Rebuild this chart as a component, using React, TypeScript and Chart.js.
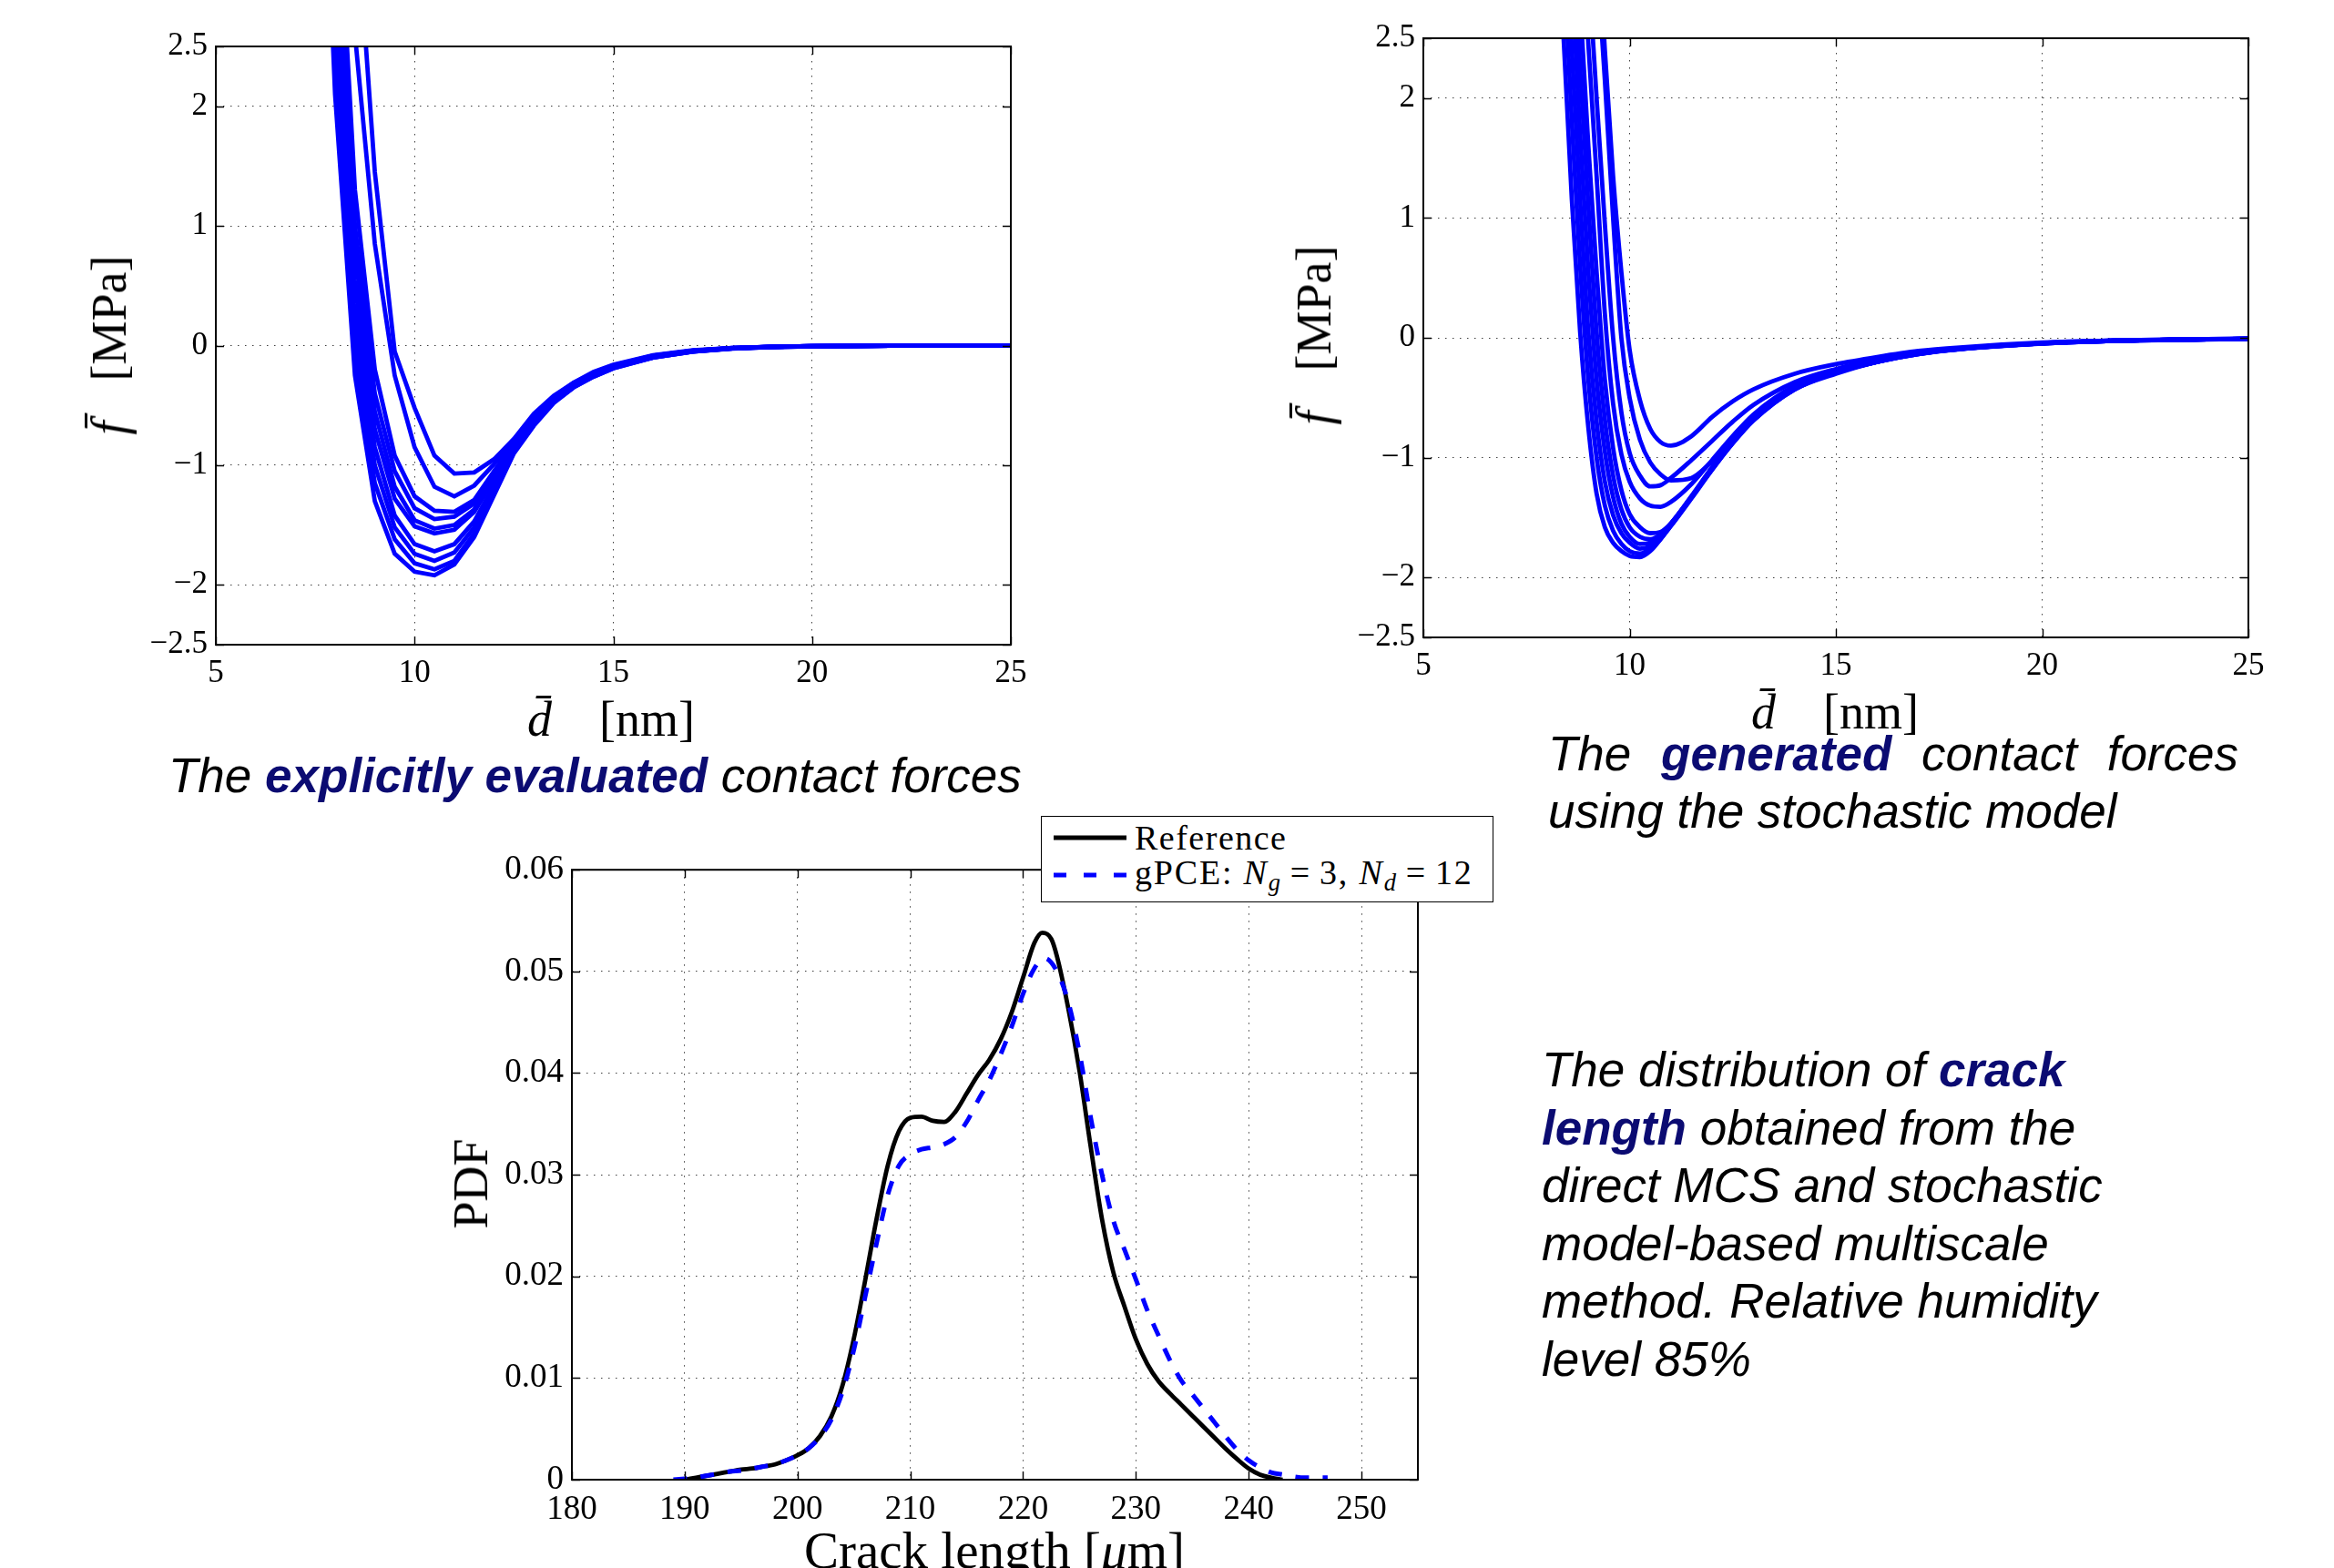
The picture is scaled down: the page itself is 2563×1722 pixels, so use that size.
import React, { useEffect, useRef } from 'react';
import { Chart, registerables } from 'chart.js';

Chart.register(...registerables);

const SERIF = '"Liberation Serif", "Times New Roman", serif';
const SANS = '"Liberation Sans", Arial, sans-serif';
const BLUE = '#0000ff';
const NAVY = '#0b0b72';
const GRID = 'rgba(0,0,0,0.75)';

// ---------- Top-left: explicitly evaluated contact forces ----------
const X_LEFT = [7.5, 8, 8.5, 9, 9.5, 10, 10.5, 11, 11.5, 12, 12.5, 13, 13.5, 14, 14.5, 15, 16, 17, 18, 19, 20, 22, 25];
const FL_A = [11.0, 7.0, 3.8, 1.45, -0.05, -0.52, -0.92, -1.07, -1.06, -0.95, -0.78, -0.57, -0.42, -0.31, -0.22, -0.16, -0.08, -0.04, -0.02, -0.01, -0.004, -0.001, 0];
const FL_B = [9.5, 6.0, 2.6, 0.85, -0.25, -0.85, -1.18, -1.26, -1.17, -0.99, -0.8, -0.59, -0.43, -0.31, -0.23, -0.165, -0.085, -0.042, -0.02, -0.01, -0.005, -0.001, 0];
const FL_C = [8.8, 4.3, 1.3, -0.2, -0.92, -1.26, -1.38, -1.39, -1.29, -1.05, -0.82, -0.61, -0.44, -0.32, -0.23, -0.17, -0.085, -0.043, -0.021, -0.01, -0.005, -0.001, 0];
const FL_D = [8.4, 3.9, 1.0, -0.4, -1.05, -1.36, -1.45, -1.43, -1.32, -1.07, -0.83, -0.62, -0.45, -0.33, -0.24, -0.17, -0.09, -0.045, -0.022, -0.011, -0.005, -0.001, 0];
const FL_E = [8.0, 3.6, 0.8, -0.55, -1.18, -1.46, -1.53, -1.5, -1.37, -1.1, -0.84, -0.62, -0.45, -0.33, -0.24, -0.17, -0.09, -0.045, -0.022, -0.011, -0.005, -0.001, 0];
const FL_F = [7.6, 3.3, 0.55, -0.7, -1.28, -1.51, -1.57, -1.54, -1.39, -1.12, -0.85, -0.63, -0.46, -0.33, -0.24, -0.18, -0.09, -0.046, -0.022, -0.011, -0.005, -0.001, 0];
const FL_G = [7.2, 3.0, 0.35, -0.85, -1.42, -1.66, -1.72, -1.66, -1.47, -1.17, -0.87, -0.64, -0.46, -0.34, -0.25, -0.18, -0.095, -0.048, -0.023, -0.011, -0.005, -0.001, 0];
const FL_H = [6.8, 2.7, 0.15, -1.0, -1.52, -1.74, -1.8, -1.73, -1.52, -1.2, -0.88, -0.65, -0.47, -0.34, -0.25, -0.18, -0.1, -0.05, -0.024, -0.012, -0.006, -0.001, 0];
const FL_I = [6.4, 2.4, -0.05, -1.15, -1.62, -1.82, -1.87, -1.8, -1.57, -1.23, -0.89, -0.66, -0.47, -0.35, -0.26, -0.19, -0.1, -0.05, -0.024, -0.012, -0.006, -0.001, 0];
const FL_J = [6.0, 2.1, -0.25, -1.3, -1.74, -1.89, -1.92, -1.83, -1.6, -1.25, -0.9, -0.67, -0.48, -0.35, -0.26, -0.19, -0.1, -0.05, -0.025, -0.012, -0.006, -0.001, 0];
const LEFT_CURVES = [FL_A, FL_B, FL_C, FL_D, FL_E, FL_F, FL_G, FL_H, FL_I, FL_J];

// ---------- Top-right: generated contact forces ----------
const X_RIGHT = [8.2, 8.4, 8.6, 8.8, 9.0, 9.2, 9.4, 9.6, 9.8, 10.0, 10.25, 10.5, 10.75, 11.0, 11.5, 12.0, 12.5, 13.0, 14.0, 15.0, 16.0, 17.0, 18.0, 20.0, 22.0, 25.0];
const FR_1 = [9.5, 8.5, 7.4, 6.2, 4.9, 3.6, 2.4, 1.35, 0.55, -0.1, -0.52, -0.76, -0.87, -0.9, -0.82, -0.66, -0.53, -0.43, -0.3, -0.22, -0.16, -0.11, -0.08, -0.04, -0.02, -0.006];
const FR_2 = [9.0, 7.8, 6.6, 5.4, 4.3, 3.2, 2.15, 1.0, 0.0, -0.5, -0.85, -1.04, -1.14, -1.19, -1.17, -1.03, -0.86, -0.68, -0.43, -0.3, -0.2, -0.135, -0.094, -0.047, -0.023, -0.009];
const FR_3 = [8.4, 7.0, 5.6, 4.3, 3.1, 2.0, 0.95, 0.0, -0.62, -0.96, -1.15, -1.24, -1.23, -1.17, -1.02, -0.86, -0.7, -0.56, -0.37, -0.26, -0.18, -0.125, -0.088, -0.044, -0.021, -0.007];
const FR_4 = [7.8, 6.3, 4.9, 3.6, 2.45, 1.35, 0.2, -0.55, -0.97, -1.2, -1.34, -1.4, -1.41, -1.37, -1.22, -1.02, -0.82, -0.64, -0.4, -0.28, -0.19, -0.13, -0.09, -0.045, -0.022, -0.008];
const FR_5 = [7.2, 5.6, 4.1, 2.8, 1.6, 0.55, -0.35, -0.92, -1.27, -1.47, -1.58, -1.63, -1.62, -1.55, -1.33, -1.08, -0.86, -0.66, -0.41, -0.28, -0.195, -0.13, -0.09, -0.045, -0.022, -0.008];
const FR_6 = [6.6, 5.0, 3.55, 2.25, 1.1, 0.05, -0.68, -1.15, -1.43, -1.58, -1.66, -1.68, -1.64, -1.55, -1.33, -1.09, -0.87, -0.67, -0.42, -0.29, -0.2, -0.132, -0.092, -0.046, -0.023, -0.008];
const FR_7 = [6.0, 4.4, 3.0, 1.7, 0.55, -0.35, -0.95, -1.33, -1.55, -1.66, -1.72, -1.71, -1.65, -1.55, -1.33, -1.09, -0.87, -0.68, -0.42, -0.29, -0.2, -0.133, -0.093, -0.046, -0.023, -0.008];
const FR_8 = [5.4, 3.8, 2.4, 1.15, 0.05, -0.7, -1.2, -1.48, -1.63, -1.71, -1.76, -1.74, -1.67, -1.57, -1.34, -1.1, -0.88, -0.69, -0.43, -0.29, -0.2, -0.135, -0.094, -0.047, -0.023, -0.009];
const FR_9 = [4.7, 3.15, 1.8, 0.6, -0.35, -1.0, -1.4, -1.61, -1.72, -1.78, -1.8, -1.76, -1.68, -1.57, -1.33, -1.1, -0.88, -0.69, -0.43, -0.29, -0.2, -0.135, -0.095, -0.048, -0.024, -0.009];
const FR_10 = [4.0, 2.5, 1.15, 0.05, -0.75, -1.3, -1.58, -1.71, -1.78, -1.82, -1.83, -1.78, -1.68, -1.56, -1.32, -1.08, -0.86, -0.68, -0.42, -0.28, -0.19, -0.13, -0.09, -0.045, -0.022, -0.008];
const RIGHT_CURVES = [FR_1, FR_2, FR_3, FR_4, FR_5, FR_6, FR_7, FR_8, FR_9, FR_10];

const F_X_TICKS = [5, 10, 15, 20, 25];
const F_Y_TICKS = [-2.5, -2, -1, 0, 1, 2, 2.5];

// ---------- Bottom: PDF of crack length ----------
const REF_X = [190, 191, 192, 193, 194, 195, 196, 197, 198, 199, 200, 201, 202, 203, 204, 205, 206, 207, 208, 209, 210, 211, 212, 213, 214, 215, 216, 217, 218, 219, 220, 221, 221.7, 222.5, 223, 224, 225, 226, 227, 228, 229, 230, 231, 232, 233, 234, 235, 236, 237, 238, 239, 240, 241, 242, 243];
const REF_Y = [0.0, 0.0002, 0.0004, 0.0006, 0.0008, 0.001, 0.0011, 0.0013, 0.0015, 0.0019, 0.0024, 0.0031, 0.0043, 0.0062, 0.0093, 0.0139, 0.0196, 0.0256, 0.0309, 0.0343, 0.0356, 0.0357, 0.0353, 0.0352, 0.0362, 0.038, 0.0398, 0.0413, 0.0433, 0.046, 0.0494, 0.0528, 0.0538, 0.0532, 0.0515, 0.0464, 0.0402, 0.0327, 0.0256, 0.0204, 0.0170, 0.0138, 0.0114, 0.0097, 0.0085, 0.0074, 0.0063, 0.0052, 0.0041, 0.003, 0.002, 0.0011, 0.0005, 0.0002, 0.0];
const GPCE_X = [189, 190, 191, 192, 193, 194, 195, 196, 197, 198, 199, 200, 201, 202, 203, 204, 205, 206, 207, 208, 209, 210, 211, 212, 213, 214, 215, 216, 217, 218, 219, 220, 221, 221.9, 223, 224, 225, 226, 227, 228, 229, 230, 231, 232, 233, 234, 235, 236, 237, 238, 239, 240, 241, 242, 243, 244, 245, 246, 247];
const GPCE_Y = [0.0, 0.0001, 0.0002, 0.0004, 0.0006, 0.0008, 0.0009, 0.0011, 0.0013, 0.0015, 0.0019, 0.0024, 0.0031, 0.0042, 0.0059, 0.0087, 0.0128, 0.018, 0.0232, 0.028, 0.0309, 0.032, 0.0325, 0.0327, 0.033, 0.0337, 0.0352, 0.0373, 0.0393, 0.0418, 0.0446, 0.0478, 0.0503, 0.0513, 0.05, 0.047, 0.042, 0.0356, 0.03, 0.0255, 0.0226, 0.0197, 0.0167, 0.0142, 0.0118, 0.0098, 0.0084, 0.007, 0.0056, 0.0042, 0.0029, 0.0019, 0.0012, 0.0007, 0.0005, 0.0003, 0.0002, 0.0002, 0.0002];
const PDF_X_TICKS = [180, 190, 200, 210, 220, 230, 240, 250];
const PDF_Y_TICKS = [0, 0.01, 0.02, 0.03, 0.04, 0.05, 0.06];

const fmtSigned = (v: number) => (v < 0 ? '\u2212' : '') + String(Math.abs(v));
const fmtPdf = (v: number) => (v === 0 ? '0' : v.toFixed(2));

const framePlugin = {
  id: 'matlabFrame',
  afterDatasetsDraw(chart: any) {
    const { ctx, chartArea: a, scales } = chart;
    const tl = 9;
    ctx.save();
    ctx.strokeStyle = '#000';
    ctx.lineWidth = 1.4;
    ctx.beginPath();
    scales.x.ticks.forEach((t: any) => {
      const px = Math.round(scales.x.getPixelForValue(t.value)) + 0.5;
      ctx.moveTo(px, a.bottom); ctx.lineTo(px, a.bottom - tl);
      ctx.moveTo(px, a.top); ctx.lineTo(px, a.top + tl);
    });
    scales.y.ticks.forEach((t: any) => {
      const py = Math.round(scales.y.getPixelForValue(t.value)) + 0.5;
      ctx.moveTo(a.left, py); ctx.lineTo(a.left + tl, py);
      ctx.moveTo(a.right, py); ctx.lineTo(a.right - tl, py);
    });
    ctx.stroke();
    ctx.lineWidth = 2;
    ctx.strokeRect(a.left, a.top, a.right - a.left, a.bottom - a.top);
    ctx.restore();
  },
};

type Box = { L: number; T: number; R: number; B: number };
type Geo = { yAxisW: number; xAxisH: number; padTop: number; padRight: number };

function makeOptions(
  geo: Geo,
  x: { min: number; max: number; ticks: number[]; fmt: (v: number) => string },
  y: { min: number; max: number; ticks: number[]; fmt: (v: number) => string },
  fontSize: number,
) {
  const tickFont = { family: SERIF, size: fontSize };
  return {
    responsive: false,
    animation: false as const,
    devicePixelRatio: 1,
    events: [] as any[],
    layout: { padding: { top: geo.padTop, right: geo.padRight, left: 0, bottom: 0 } },
    plugins: { legend: { display: false }, tooltip: { enabled: false } },
    scales: {
      x: {
        type: 'linear' as const,
        min: x.min,
        max: x.max,
        afterBuildTicks: (s: any) => { s.ticks = x.ticks.map((v) => ({ value: v })); },
        afterFit: (s: any) => { s.height = geo.xAxisH; },
        grid: { color: GRID, lineWidth: 1, drawTicks: false },
        border: { display: false, dash: [1.5, 6.5] },
        ticks: { font: tickFont, color: '#000', padding: 11, maxRotation: 0, autoSkip: false, callback: (v: any) => x.fmt(Number(v)) },
      },
      y: {
        type: 'linear' as const,
        min: y.min,
        max: y.max,
        afterBuildTicks: (s: any) => { s.ticks = y.ticks.map((v) => ({ value: v })); },
        afterFit: (s: any) => { s.width = geo.yAxisW; },
        grid: { color: GRID, lineWidth: 1, drawTicks: false },
        border: { display: false, dash: [1.5, 6.5] },
        ticks: { font: tickFont, color: '#000', padding: 9, autoSkip: false, callback: (v: any) => y.fmt(Number(v)) },
      },
    },
  };
}

function PlotCanvas({ box, geo, build }: { box: Box; geo: Geo; build: (geo: Geo) => any }) {
  const ref = useRef<HTMLCanvasElement>(null);
  const W = box.R - box.L + geo.yAxisW + geo.padRight;
  const H = box.B - box.T + geo.padTop + geo.xAxisH;
  useEffect(() => {
    const chart = new Chart(ref.current as HTMLCanvasElement, build(geo));
    return () => chart.destroy();
  }, []);
  return (
    <canvas
      ref={ref}
      width={W}
      height={H}
      style={{ position: 'absolute', left: box.L - geo.yAxisW, top: box.T - geo.padTop, width: W, height: H }}
    />
  );
}

const toPoints = (xs: number[], ys: number[]) => xs.map((x, i) => ({ x, y: ys[i] }));

const buildLeft = (geo: Geo) => ({
  type: 'line',
  data: {
    datasets: LEFT_CURVES.map((ys) => ({
      data: toPoints(X_LEFT, ys),
      borderColor: BLUE,
      borderWidth: 4.8,
      pointRadius: 0,
      tension: 0,
      fill: false,
      clip: 0,
    })),
  },
  options: makeOptions(geo, { min: 5, max: 25, ticks: F_X_TICKS, fmt: fmtSigned }, { min: -2.5, max: 2.5, ticks: F_Y_TICKS, fmt: fmtSigned }, 35),
  plugins: [framePlugin],
});

const buildRight = (geo: Geo) => ({
  type: 'line',
  data: {
    datasets: RIGHT_CURVES.map((ys) => ({
      data: toPoints(X_RIGHT, ys),
      borderColor: BLUE,
      borderWidth: 4.8,
      pointRadius: 0,
      cubicInterpolationMode: 'monotone',
      fill: false,
      clip: 0,
    })),
  },
  options: makeOptions(geo, { min: 5, max: 25, ticks: F_X_TICKS, fmt: fmtSigned }, { min: -2.5, max: 2.5, ticks: F_Y_TICKS, fmt: fmtSigned }, 35),
  plugins: [framePlugin],
});

const buildPdf = (geo: Geo) => ({
  type: 'line',
  data: {
    datasets: [
      {
        label: 'gPCE',
        data: toPoints(GPCE_X, GPCE_Y),
        borderColor: BLUE,
        borderWidth: 5,
        borderDash: [15, 15],
        pointRadius: 0,
        cubicInterpolationMode: 'monotone',
        fill: false,
        clip: 0,
      },
      {
        label: 'Reference',
        data: toPoints(REF_X, REF_Y),
        borderColor: '#000',
        borderWidth: 4.8,
        pointRadius: 0,
        cubicInterpolationMode: 'monotone',
        fill: false,
        clip: 0,
      },
    ],
  },
  options: makeOptions(geo, { min: 180, max: 255, ticks: PDF_X_TICKS, fmt: (v) => String(v) }, { min: 0, max: 0.06, ticks: PDF_Y_TICKS, fmt: fmtPdf }, 37),
  plugins: [framePlugin],
});

const BOX_LEFT: Box = { L: 237, T: 46, R: 1110, B: 708 };
const BOX_RIGHT: Box = { L: 1563, T: 37, R: 2469, B: 700 };
const BOX_PDF: Box = { L: 628, T: 949, R: 1557, B: 1625 };
const GEO_TOP: Geo = { yAxisW: 120, xAxisH: 60, padTop: 25, padRight: 40 };
const GEO_PDF: Geo = { yAxisW: 140, xAxisH: 60, padTop: 25, padRight: 40 };

const axisTitle: React.CSSProperties = {
  position: 'absolute',
  fontFamily: SERIF,
  fontSize: 54,
  lineHeight: 1,
  whiteSpace: 'nowrap',
  color: '#000',
};

function YTitle({ cx, cy, children }: { cx: number; cy: number; children: React.ReactNode }) {
  return (
    <div style={{ ...axisTitle, left: cx, top: cy, transform: 'translate(-50%, -50%) rotate(-90deg)' }}>{children}</div>
  );
}
function XTitle({ cx, cy, size, children }: { cx: number; cy: number; size?: number; children: React.ReactNode }) {
  return <div style={{ ...axisTitle, fontSize: size || 54, left: cx, top: cy, transform: 'translate(-50%, -50%)' }}>{children}</div>;
}

const caption: React.CSSProperties = {
  position: 'absolute',
  fontFamily: SANS,
  fontStyle: 'italic',
  fontSize: 53,
  color: '#000',
  whiteSpace: 'nowrap',
};
const B = ({ children }: { children: React.ReactNode }) => (
  <span style={{ fontWeight: 'bold', color: NAVY }}>{children}</span>
);

const subStyle: React.CSSProperties = { fontSize: '0.7em', verticalAlign: '-0.25em' };
const eqStyle: React.CSSProperties = { margin: '0 9px' };

export default function App() {
  return (
    <div style={{ position: 'absolute', left: 0, top: 0, width: 2563, height: 1722, background: '#fff', overflow: 'hidden' }}>
      <PlotCanvas box={BOX_LEFT} geo={GEO_TOP} build={buildLeft} />
      <PlotCanvas box={BOX_RIGHT} geo={GEO_TOP} build={buildRight} />
      <PlotCanvas box={BOX_PDF} geo={GEO_PDF} build={buildPdf} />

      <YTitle cx={120} cy={379}>
        <i>f{'\u0304'}</i>
        <span style={{ marginLeft: 44 }}>[MPa]</span>
      </YTitle>
      <XTitle cx={671} cy={790}>
        <i>d{'\u0304'}</i>
        <span style={{ marginLeft: 52 }}>[nm]</span>
      </XTitle>

      <YTitle cx={1443} cy={368}>
        <i>f{'\u0304'}</i>
        <span style={{ marginLeft: 44 }}>[MPa]</span>
      </YTitle>
      <XTitle cx={2015} cy={782}>
        <i>d{'\u0304'}</i>
        <span style={{ marginLeft: 52 }}>[nm]</span>
      </XTitle>

      <YTitle cx={517} cy={1300}>PDF</YTitle>
      <XTitle cx={1092} cy={1702} size={57}>
        Crack length [<i>μ</i>m]
      </XTitle>

      {/* legend */}
      <div
        style={{
          position: 'absolute', left: 1143, top: 896, width: 497, height: 95,
          border: '1.5px solid #000', background: '#fff', boxSizing: 'border-box', zIndex: 2,
        }}
      >
        <svg width={494} height={92} style={{ position: 'absolute', left: 0, top: 0 }}>
          <line x1={13} y1={23} x2={93} y2={23} stroke="#000" strokeWidth={4.8} />
          <line x1={13} y1={64} x2={93} y2={64} stroke={BLUE} strokeWidth={4.8} strokeDasharray="14 19" />
        </svg>
        <div style={{ position: 'absolute', left: 102, top: 4, fontFamily: SERIF, fontSize: 38, lineHeight: 1, letterSpacing: 1.5, whiteSpace: 'nowrap' }}>
          Reference
        </div>
        <div style={{ position: 'absolute', left: 102, top: 42, fontFamily: SERIF, fontSize: 38, lineHeight: 1, letterSpacing: 1.8, whiteSpace: 'nowrap' }}>
          gPCE: <i>N</i>
          <sub style={subStyle}><i>g</i></sub>
          <span style={eqStyle}>=</span>3, <i>N</i>
          <sub style={subStyle}><i>d</i></sub>
          <span style={eqStyle}>=</span>12
        </div>
      </div>

      {/* captions */}
      <div style={{ ...caption, left: 185, top: 825, lineHeight: 1 }}>
        The <B>explicitly evaluated</B> contact forces
      </div>

      <div style={{ ...caption, left: 1700, top: 796, lineHeight: '63px' }}>
        <div style={{ width: 758, textAlign: 'justify', textAlignLast: 'justify' }}>
          The <B>generated</B> contact forces
        </div>
        <div>using the stochastic model</div>
      </div>

      <div style={{ ...caption, left: 1693, top: 1143, lineHeight: '63.5px' }}>
        <div>The distribution of <B>crack</B></div>
        <div><B>length</B> obtained from the</div>
        <div>direct MCS and stochastic</div>
        <div>model-based multiscale</div>
        <div>method. Relative humidity</div>
        <div>level 85%</div>
      </div>
    </div>
  );
}
